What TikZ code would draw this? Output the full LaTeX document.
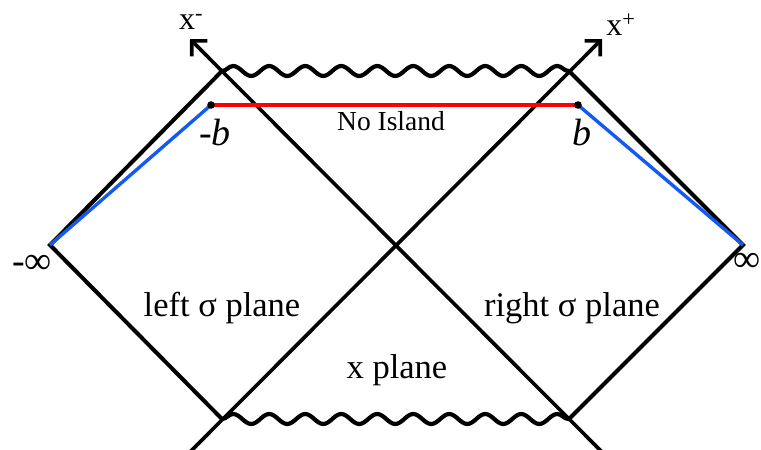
\documentclass[tikz,border=0pt]{standalone}
\usepackage{fontspec}
\setmainfont{Liberation Serif}
\usetikzlibrary{arrows.meta,decorations.pathmorphing}
\definecolor{blueline}{RGB}{20,90,240}
\definecolor{redline}{RGB}{255,0,0}
\begin{document}
\begin{tikzpicture}[x=1pt,y=-1pt,
  edge/.style={line width=4pt, line join=miter},
  axis/.style={line width=3.6pt, -{Straight Barb[length=11pt,width=22pt]}},
  wavy/.style={line width=4.2pt, decorate, decoration={snake, segment length=36pt, amplitude=5pt, post length=0pt, pre length=0pt}},
  bluel/.style={line width=3.4pt, blueline},
  redl/.style={line width=3.4pt, redline},
  lbl/.style={inner sep=0pt, font=\fontsize{34.5}{38}\selectfont},
  small/.style={inner sep=0pt, font=\fontsize{27.5}{30}\selectfont},
  pt/.style={inner sep=0pt, font=\fontsize{38}{42}\selectfont},
  axl/.style={inner sep=0pt, font=\fontsize{32}{36}\selectfont}]
\useasboundingbox (0,0) rectangle (761,450);
\coordinate (L) at (50,245);
\coordinate (R) at (743,245);
\coordinate (TL) at (222,71);
\coordinate (TR) at (569,71);
\coordinate (BL) at (222,419);
\coordinate (BR) at (569,419);
\coordinate (xmtip) at (190,39);
\coordinate (xmtail) at (604,454);
\coordinate (xptip) at (602,39);
\coordinate (xptail) at (188,454);
\coordinate (mb) at (211,105);
\coordinate (pb) at (578,105);
% diamond sides
\draw[edge] (TL) -- (L) -- (BL);
\draw[edge] (TR) -- (R) -- (BR);
% axes
\draw[axis] (xmtail) -- (xmtip);
\draw[axis] (xptail) -- (xptip);
% singularities
\draw[wavy] (TL) -- (TR);
\draw[wavy] (BL) -- (BR);
% coloured segments
\draw[bluel] (L) -- (mb);
\draw[bluel] (R) -- (pb);
\draw[redl] (mb) -- (pb);
\fill (mb) circle (3.8pt);
\fill (pb) circle (3.8pt);
% labels
\node[axl] (xm) at (191,22) {x\textsuperscript{-}};
\node[axl] (xp) at (621,25) {x\textsuperscript{+}};
\node[pt] (mbl) at (215,133) {-\textit{b}};
\node[pt] (pbl) at (582,133) {\textit{b}};
\node[pt] (minf) at (32,264) {-∞};
\node[pt] (pinf) at (747,262) {∞};
\node[small] (noisl) at (391,121) {No Island};
\node[lbl] (lsig) at (222,308) {left σ plane};
\node[lbl] (rsig) at (572,308) {right σ plane};
\node[lbl] (xpl) at (397,370) {x plane};
\end{tikzpicture}
\end{document}
